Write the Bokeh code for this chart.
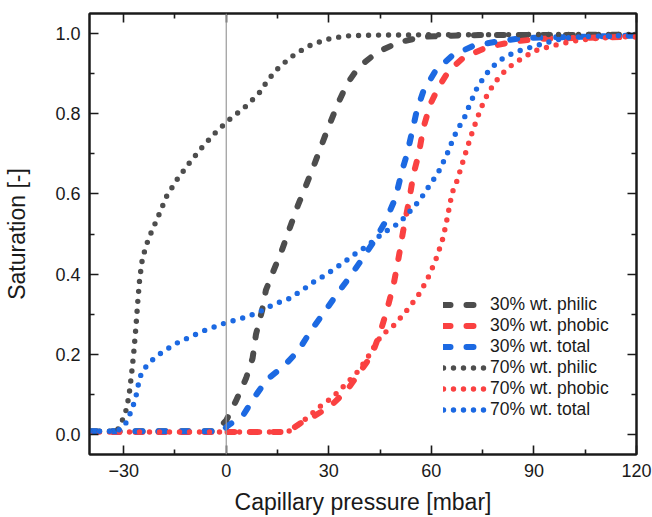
from bokeh.plotting import figure
from bokeh.models import (LinearAxis, FixedTicker, PrintfTickFormatter, Span,
                          Legend, LegendItem, Range1d)
from bokeh.embed import file_html
from bokeh.resources import INLINE

# ---------------- data ----------------
x30_philic = [-40, -3, 0, 2.8, 5.8, 7.7, 8.7, 10.5, 11.6, 13.9, 16.3, 18.5, 20.9,
              23.1, 25.6, 27.8, 29.9, 32.6, 35.3, 38.7, 44.1, 50.4, 57.7, 70, 120]
y30_philic = [0.008, 0.008, 0.035, 0.083, 0.14, 0.19, 0.25, 0.31, 0.36, 0.41, 0.46,
              0.513, 0.57, 0.616, 0.67, 0.72, 0.767, 0.824, 0.874, 0.916, 0.953,
              0.978, 0.992, 0.996, 0.997]

x30_phobic = [-40, 18, 21.7, 24.6, 30.4, 35.3, 38.2, 41.1, 43.1, 45.1, 47, 49, 50.4,
              51.8, 53.4, 54.8, 56.3, 57.7, 59.7, 62.1, 65.1, 69.4, 76.3, 84.1, 91.9, 120]
y30_phobic = [0.006, 0.006, 0.028, 0.04, 0.07, 0.11, 0.145, 0.18, 0.21, 0.257, 0.31,
              0.376, 0.44, 0.51, 0.58, 0.65, 0.70, 0.766, 0.824, 0.866, 0.907, 0.94,
              0.966, 0.98, 0.987, 0.992]

x30_total = [-40, -1, 0.2, 5.1, 8, 11.9, 16.8, 21.2, 24.6, 28.5, 32.4, 36.3, 39.7,
             43.6, 46.5, 49.5, 51.4, 52.9, 54.3, 55.8, 57.7, 61.2, 66.1, 72.4, 79.2,
             87, 98.7, 120]
y30_total = [0.008, 0.008, 0.02, 0.05, 0.09, 0.137, 0.17, 0.21, 0.257, 0.303, 0.35,
             0.395, 0.437, 0.487, 0.53, 0.59, 0.657, 0.70, 0.753, 0.81, 0.857, 0.907,
             0.945, 0.97, 0.98, 0.989, 0.991, 0.995]

x70_philic = [-40, -32, -30.8, -29.6, -28.9, -28.4, -27.7, -27.1, -26.4, -25.8, -25.3,
              -24.5, -22.8, -20.6, -19.6, -17.4, -14.3, -10.8, -7.4, -3.5, 0.7, 5.4,
              9.5, 12.3, 14.8, 18.7, 23.6, 29, 34.8, 43, 60, 120]
y70_philic = [0.008, 0.008, 0.028, 0.05, 0.076, 0.10, 0.15, 0.20, 0.27, 0.34, 0.39,
              0.44, 0.487, 0.53, 0.55, 0.595, 0.637, 0.677, 0.713, 0.75, 0.784, 0.816,
              0.85, 0.885, 0.91, 0.94, 0.967, 0.985, 0.994, 0.996, 0.997, 0.998]

x70_phobic = [-40, 18, 21.7, 24.1, 28, 30.9, 34.8, 38.7, 41.9, 44.3, 46, 49, 51.9,
              53.8, 56.8, 59.5, 61.7, 63.4, 64.3, 65.6, 66.3, 67.3, 68.2, 69.9, 71.6,
              73.5, 75.5, 76.8, 78.2, 80, 82.1, 84.6, 87.2, 89.9, 95.6, 101.5, 107,
              113.3, 120]
y70_phobic = [0.006, 0.006, 0.028, 0.045, 0.074, 0.091, 0.124, 0.159, 0.199, 0.234,
              0.251, 0.272, 0.30, 0.32, 0.355, 0.399, 0.445, 0.49, 0.525, 0.5825,
              0.6075, 0.628, 0.652, 0.699, 0.745, 0.791, 0.834, 0.853, 0.874, 0.8925,
              0.912, 0.928, 0.941, 0.956, 0.97, 0.981, 0.987, 0.991, 0.993]

x70_total = [-40, -32, -29.9, -28.6, -26.6, -26, -25.5, -24.7, -23, -21.1, -18.8,
             -16.4, -13.8, -11.1, -8.6, -5.9, -3.2, -0.5, 2.1, 5, 7.7, 10.1, 12.9,
             15.6, 18.2, 22.6, 25.1, 27.5, 29.9, 32.4, 34.5, 36.8, 39.2, 41.6, 43.6,
             46, 48.5, 50.9, 52.9, 54.8, 56.8, 58.4, 59.9, 61.7, 62.9, 64.1, 65.3,
             66.3, 67.5, 68.8, 70.2, 71.2, 72.4, 73.5, 75.1, 76.8, 79, 81.4, 84.1,
             86.8, 89.8, 92.4, 95.3, 98.2, 101.2, 110, 120]
y70_total = [0.008, 0.008, 0.02, 0.041, 0.087, 0.112, 0.134, 0.156, 0.174, 0.19,
             0.205, 0.218, 0.231, 0.241, 0.251, 0.261, 0.269, 0.2775, 0.284, 0.291,
             0.299, 0.3075, 0.32, 0.33, 0.338, 0.362, 0.378, 0.39, 0.403, 0.4175,
             0.43, 0.445, 0.459, 0.4725, 0.487, 0.503, 0.516, 0.53, 0.549, 0.566,
             0.587, 0.6075, 0.627, 0.649, 0.668, 0.691, 0.713, 0.737, 0.7575, 0.778,
             0.799, 0.824, 0.845, 0.8675, 0.887, 0.9075, 0.926, 0.941, 0.952, 0.96,
             0.9675, 0.974, 0.981, 0.987, 0.991, 0.994, 0.995]

x_ticks = [-30, 0, 30, 60, 90, 120]
x_minor = [-15, 15, 45, 75, 105]
y_ticks = [0.0, 0.2, 0.4, 0.6, 0.8, 1.0]
y_minor = [0.1, 0.3, 0.5, 0.7, 0.9]

labels = ["30% wt. philic", "30% wt. phobic", "30% wt. total",
          "70% wt. philic", "70% wt. phobic", "70% wt. total"]

GRAY = "#4d4d4d"
RED = "#fa4141"
BLUE = "#1c69e2"
FONT = "Liberation Sans"
INK = "#1a1a1a"

p = figure(width=652, height=517, x_range=Range1d(-40, 120), y_range=Range1d(-0.05, 1.05),
           output_backend="svg", toolbar_location=None,
           min_border_left=89, min_border_right=16, min_border_top=13, min_border_bottom=62)
p.grid.visible = False
p.outline_line_color = INK
p.outline_line_width = 2
p.background_fill_color = "white"
p.border_fill_color = "white"

# zero line
p.add_layout(Span(location=0, dimension="height", line_color="#9a9a9a", line_width=1.2))

series = [
    (x30_philic, y30_philic, GRAY, "dash"),
    (x30_phobic, y30_phobic, RED, "dash"),
    (x30_total, y30_total, BLUE, "dash"),
    (x70_philic, y70_philic, GRAY, "dot"),
    (x70_phobic, y70_phobic, RED, "dot"),
    (x70_total, y70_total, BLUE, "dot"),
]
renderers = []
for xs, ys, col, style in series:
    if style == "dash":
        r = p.line(xs, ys, line_color=col, line_width=6, line_dash="7 16",
                   line_cap="round", line_join="round")
    else:
        r = p.line(xs, ys, line_color=col, line_width=5.4, line_dash="0 10",
                   line_cap="round", line_join="round")
    renderers.append(r)

# axes
bx = p.below[0]
ly = p.left[0]
bx.ticker = FixedTicker(ticks=x_ticks, minor_ticks=x_minor)
ly.ticker = FixedTicker(ticks=y_ticks, minor_ticks=y_minor)
ly.formatter = PrintfTickFormatter(format="%.1f")
bx.axis_label = "Capillary pressure [mbar]"
ly.axis_label = "Saturation [-]"

top = LinearAxis(ticker=FixedTicker(ticks=x_ticks, minor_ticks=x_minor),
                 major_label_text_font_size="1px", major_label_text_color=None,
                 major_label_standoff=0)
right = LinearAxis(ticker=FixedTicker(ticks=y_ticks, minor_ticks=y_minor),
                   major_label_text_font_size="1px", major_label_text_color=None,
                   major_label_standoff=0)
p.add_layout(top, "above")
p.add_layout(right, "right")

for ax in [bx, ly, top, right]:
    ax.major_tick_in = 9
    ax.major_tick_out = 0
    ax.minor_tick_in = 5
    ax.minor_tick_out = 0
    ax.axis_line_width = 2
    ax.axis_line_color = INK
    ax.major_tick_line_width = 1.6
    ax.minor_tick_line_width = 1.6
    ax.major_tick_line_color = INK
    ax.minor_tick_line_color = INK

for ax in [bx, ly]:
    ax.major_label_text_font = FONT
    ax.major_label_text_font_size = "18px"
    ax.major_label_text_color = INK
    ax.axis_label_text_font = FONT
    ax.axis_label_text_font_size = "23px"
    ax.axis_label_text_font_style = "normal"
    ax.axis_label_text_color = INK

bx.major_label_standoff = 9
bx.axis_label_standoff = 9
ly.major_label_standoff = 9
ly.axis_label_standoff = 22

legend = Legend(items=[LegendItem(label=l, renderers=[r]) for l, r in zip(labels, renderers)],
                location=(354, 34), orientation="vertical")
legend.label_text_font = FONT
legend.label_text_font_size = "17.5px"
legend.label_text_color = INK
legend.glyph_width = 44
legend.glyph_height = 21
legend.label_height = 21
legend.label_standoff = 3
legend.spacing = 0
legend.padding = 0
legend.margin = 0
legend.border_line_color = None
legend.background_fill_alpha = 0
p.add_layout(legend, "center")

open("out.html", "w").write(file_html(p, INLINE))
